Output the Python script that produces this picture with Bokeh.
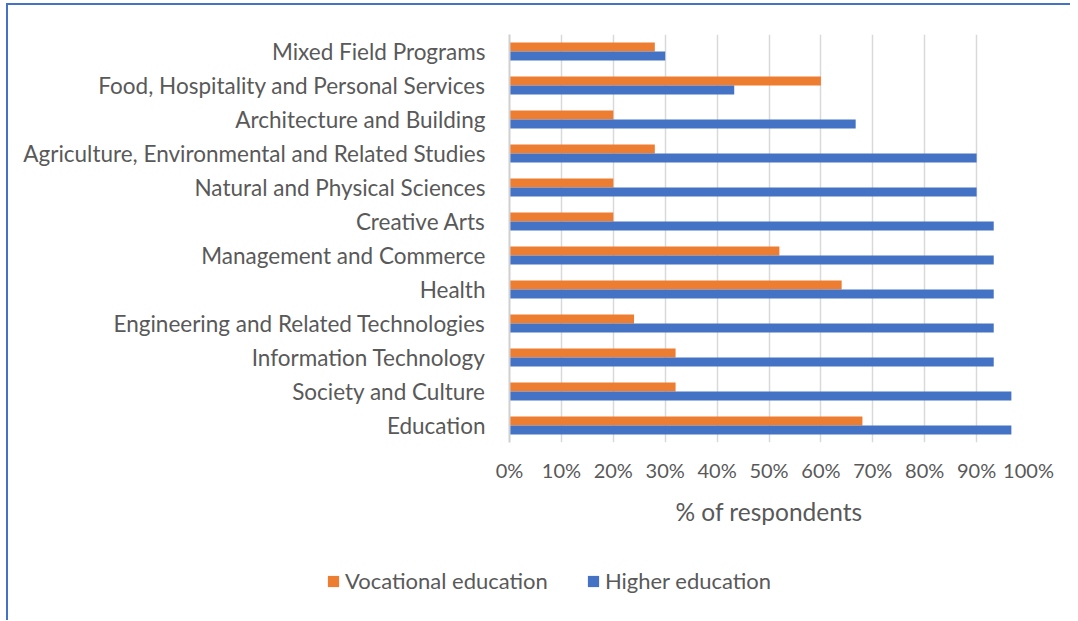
from bokeh.plotting import figure
from bokeh.layouts import column
from bokeh.models import (Range1d, FactorRange, FixedTicker, PrintfTickFormatter,
                          Legend, LegendItem)
from bokeh.transform import dodge
from bokeh.models import ColumnDataSource
from bokeh.embed import file_html
from bokeh.resources import INLINE

categories = [
    "Education",
    "Society and Culture",
    "Information Technology",
    "Engineering and Related Technologies",
    "Health",
    "Management and Commerce",
    "Creative Arts",
    "Natural and Physical Sciences",
    "Agriculture, Environmental and Related Studies",
    "Architecture and Building",
    "Food, Hospitality and Personal Services",
    "Mixed Field Programs",
]
vocational = [68, 32, 32, 24, 64, 52, 20, 20, 28, 20, 60, 28]
higher = [96.7, 96.7, 93.3, 93.3, 93.3, 93.3, 93.3, 90, 90, 66.7, 43.3, 30]
x_ticks = [0, 10, 20, 30, 40, 50, 60, 70, 80, 90, 100]
series_names = ["Vocational education", "Higher education"]

ORANGE = "#ED7D31"
BLUE = "#4472C4"
TXT = "#595959"
FONT = "Lato"

src = ColumnDataSource(dict(cat=categories, voc=vocational, hig=higher))

p = figure(width=1062, height=535, output_backend="svg", toolbar_location=None,
           y_range=FactorRange(*categories, range_padding=0),
           x_range=Range1d(0, 100),
           min_border_left=501, min_border_right=42,
           min_border_top=29, min_border_bottom=98)
p.outline_line_color = None
p.background_fill_color = "white"
p.border_fill_color = "white"

bh = 0.265
r_voc = p.hbar(y=dodge("cat", bh / 2, range=p.y_range), right="voc", left=0,
               height=bh, source=src, color=ORANGE, line_color=None)
r_hig = p.hbar(y=dodge("cat", -bh / 2, range=p.y_range), right="hig", left=0,
               height=bh, source=src, color=BLUE, line_color=None)

# x axis
xa = p.xaxis[0]
xa.ticker = FixedTicker(ticks=x_ticks)
xa.formatter = PrintfTickFormatter(format="%d%%")
xa.axis_line_color = None
xa.major_tick_line_color = None
xa.minor_tick_line_color = None
xa.major_label_standoff = 9
xa.major_label_text_font = FONT
xa.major_label_text_font_size = "20px"
xa.major_label_text_color = TXT
xa.axis_label = "% of respondents"
xa.axis_label_text_font = FONT
xa.axis_label_text_font_size = "24.5px"
xa.axis_label_text_font_style = "normal"
xa.axis_label_text_color = TXT
xa.axis_label_standoff = 12

# y axis
ya = p.yaxis[0]
ya.axis_line_color = "#D0D0D0"
ya.axis_line_width = 2
ya.major_tick_line_color = None
ya.minor_tick_line_color = None
ya.major_label_standoff = 18
ya.major_label_text_font = FONT
ya.major_label_text_font_size = "22.5px"
ya.major_label_text_color = TXT

p.xgrid.grid_line_color = "#D9D9D9"
p.xgrid.grid_line_width = 1.5
p.xgrid.ticker = FixedTicker(ticks=x_ticks)
p.ygrid.grid_line_color = None

# legend strip (separate small figure so the legend is not clipped);
# its ranges are far from the data so its own bars stay out of view
pl = figure(width=1062, height=80, output_backend="svg", toolbar_location=None,
            x_axis_type=None, y_axis_type=None,
            x_range=Range1d(0, 1), y_range=Range1d(1000, 1001),
            min_border_left=0, min_border_right=0, min_border_top=0, min_border_bottom=0)
pl.frame_align = False
pl.grid.grid_line_color = None
pl.outline_line_color = None
leg_src = ColumnDataSource(dict(idx=list(range(len(categories))), voc=vocational, hig=higher))
lr_voc = pl.hbar(y="idx", right="voc", left=0, height=0.5, source=leg_src,
                 color=ORANGE, line_color=None)
lr_hig = pl.hbar(y="idx", right="hig", left=0, height=0.5, source=leg_src,
                 color=BLUE, line_color=None)

legend = Legend(items=[LegendItem(label=series_names[0], renderers=[lr_voc]),
                       LegendItem(label=series_names[1], renderers=[lr_hig])],
                orientation="horizontal", location=(318, 26),
                padding=0, margin=0, spacing=38, label_standoff=5,
                glyph_width=14, glyph_height=14, label_height=20,
                label_text_font=FONT, label_text_font_size="22px",
                label_text_color=TXT, border_line_color=None,
                background_fill_alpha=0)
pl.add_layout(legend, "center")

layout = column(p, pl, spacing=0,
                styles={"border-left": "2px solid #4472C4",
                        "border-top": "2px solid #4472C4",
                        "margin-left": "6px", "margin-top": "3px"})

open("out.html", "w").write(file_html(layout, INLINE))
